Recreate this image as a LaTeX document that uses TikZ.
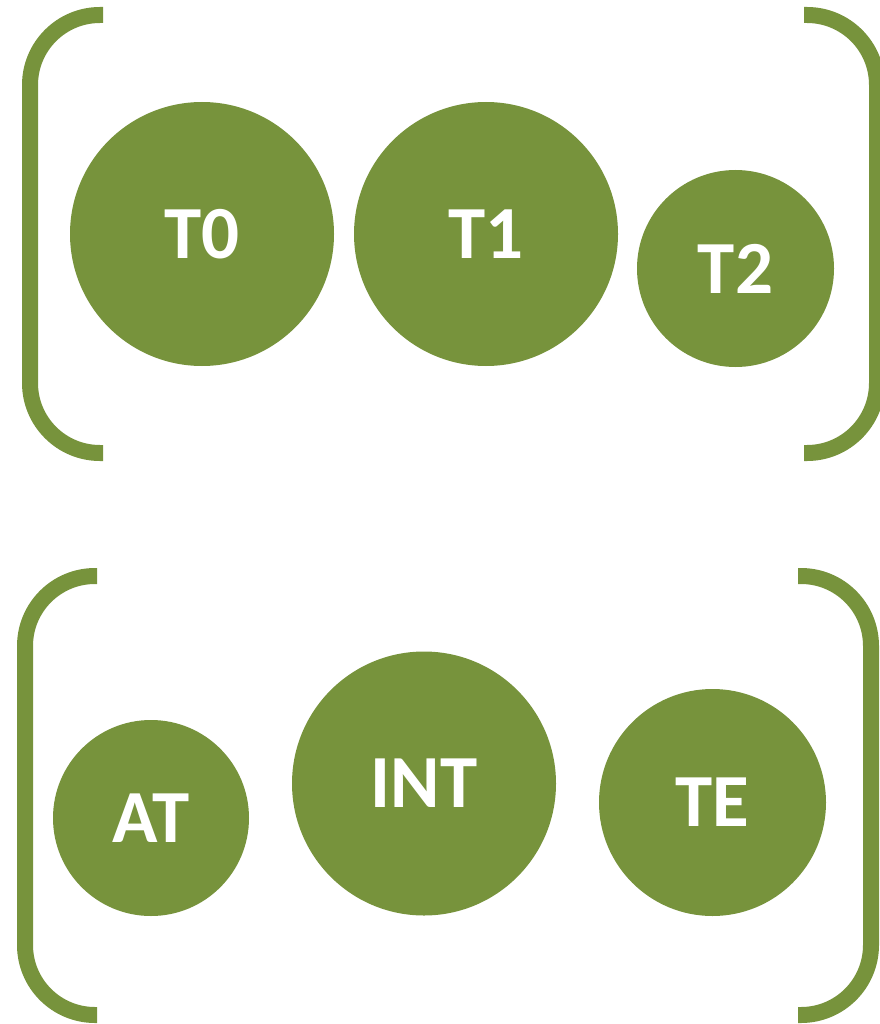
\documentclass[tikz,border=0pt]{standalone}
\usepackage{fontspec}
\setmainfont{Carlito}
\definecolor{olive}{RGB}{119,147,60}
\tikzset{
  bubble/.style={circle, fill=olive, draw=none, inner sep=0pt, text=white,
    font=\bfseries\fontsize{75}{80}\selectfont},
  bracketline/.style={draw=olive, line width=16pt, rounded corners=70pt, line cap=butt}
}
\begin{document}
\begin{tikzpicture}[x=1pt,y=-1pt]
\useasboundingbox (0,0) rectangle (879,1024);
% top group brackets
\coordinate (tl1) at (103,15);
\coordinate (tl2) at (30,15);
\coordinate (tl3) at (30,453);
\coordinate (tl4) at (103,453);
\draw[bracketline] (tl1) -- (tl2) -- (tl3) -- (tl4);
\coordinate (tr1) at (804,15);
\coordinate (tr2) at (877,15);
\coordinate (tr3) at (877,453);
\coordinate (tr4) at (804,453);
\draw[bracketline] (tr1) -- (tr2) -- (tr3) -- (tr4);
% bottom group brackets
\coordinate (bl1) at (97,576);
\coordinate (bl2) at (25,576);
\coordinate (bl3) at (25,1015);
\coordinate (bl4) at (97,1015);
\draw[bracketline] (bl1) -- (bl2) -- (bl3) -- (bl4);
\coordinate (br1) at (798,576);
\coordinate (br2) at (871,576);
\coordinate (br3) at (871,1015);
\coordinate (br4) at (798,1015);
\draw[bracketline] (br1) -- (br2) -- (br3) -- (br4);
% circles
\node[bubble, minimum size=264pt] (T0) at (202,234) {T0};
\node[bubble, minimum size=264pt] (T1) at (486,234) {T1};
\node[bubble, minimum size=197pt] (T2) at (735.5,268.5) {T2};
\node[bubble, minimum size=196pt] (AT) at (151,818) {AT};
\node[bubble, minimum size=264pt] (INT) at (424,783.5) {INT};
\node[bubble, minimum size=227pt] (TE) at (712.5,802.5) {TE};
\end{tikzpicture}
\end{document}
